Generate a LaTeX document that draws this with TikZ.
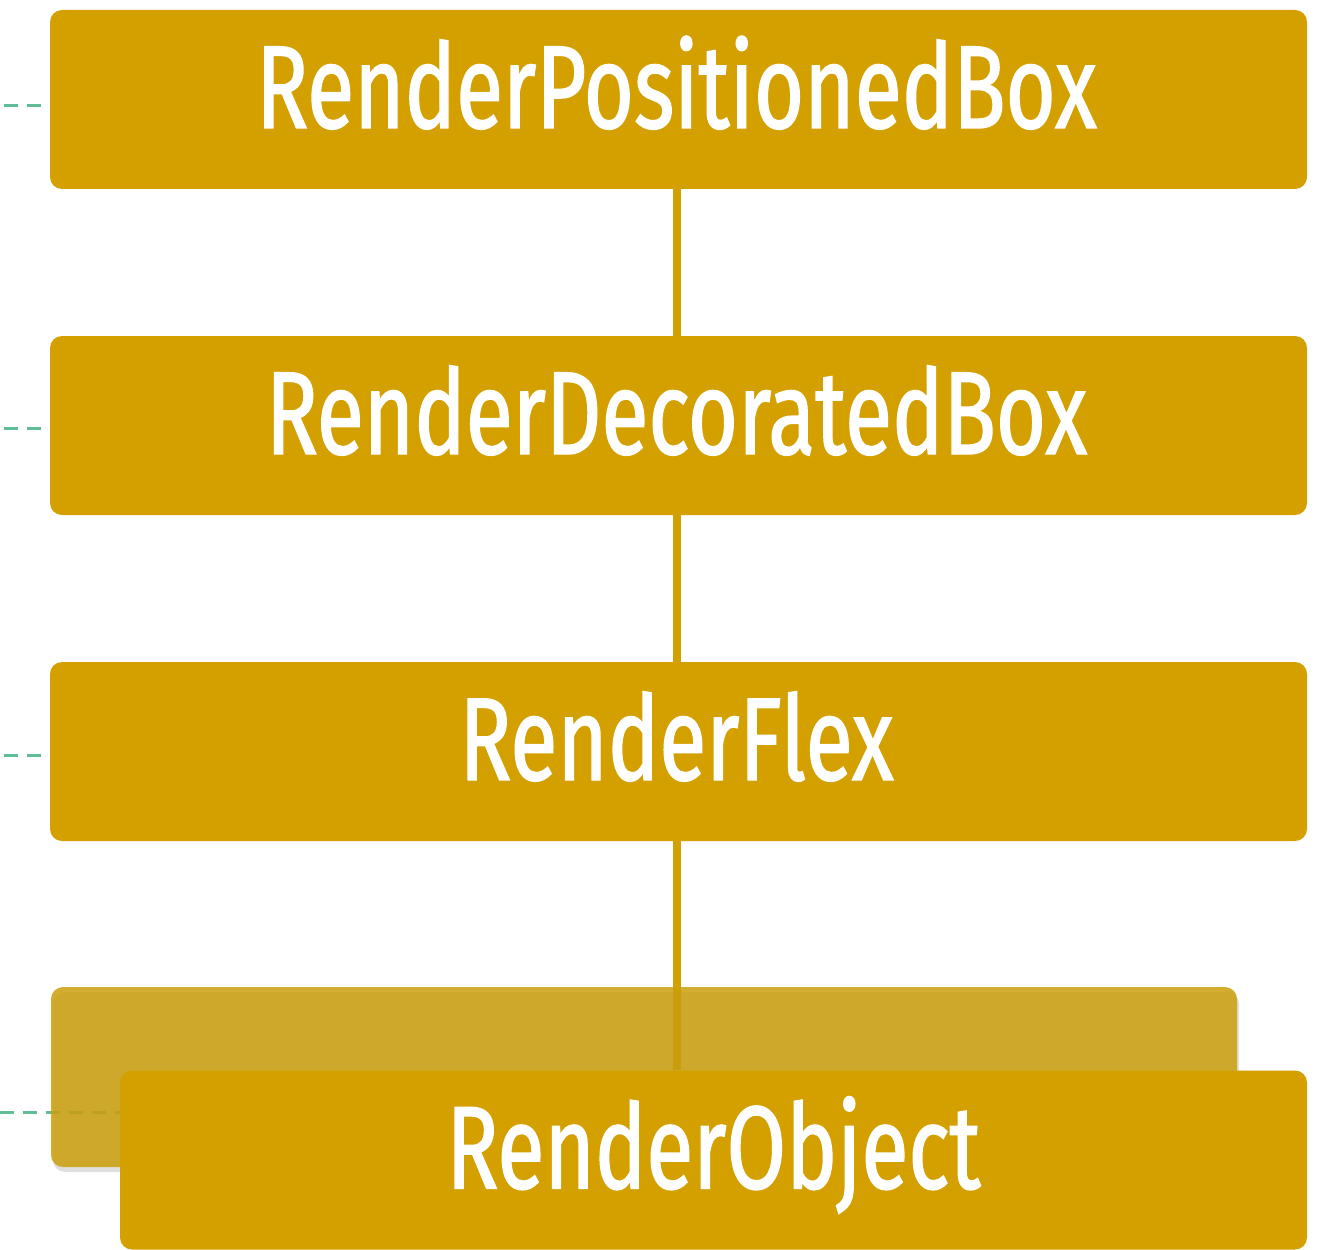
\documentclass[tikz,border=0pt]{standalone}
\usepackage{fontspec}
\setmainfont[FakeStretch=0.73,FakeBold=1.2]{Fira Sans}
\usetikzlibrary{shadows}
\definecolor{gold}{RGB}{212,160,0}
\definecolor{goldback}{RGB}{203,159,12}
\definecolor{dashgreen}{RGB}{95,190,150}
\pgfdeclarelayer{lines}
\pgfdeclarelayer{behind}
\pgfsetlayers{lines,behind,main}
\begin{document}
\begin{tikzpicture}[x=1pt,y=-1pt,
  classbox/.style={fill=gold, rounded corners=12pt, minimum width=1257pt,
    minimum height=179pt, inner sep=0pt, text=white,
    font=\fontsize{118}{120}\selectfont, text height=90pt, text depth=33pt},
  backbox/.style={fill=goldback, fill opacity=0.85, rounded corners=12pt,
    minimum width=1186pt, minimum height=180pt, inner sep=0pt,
    drop shadow={opacity=0.25, shadow xshift=2pt, shadow yshift=-5pt}},
  link/.style={draw=gold, line width=8pt},
  ref/.style={draw=dashgreen, line width=3pt, dash pattern=on 14pt off 9pt}]
\clip (0,0) rectangle (1321,1249);
% free ends of the dashed references
\coordinate (r1) at (4,106);
\coordinate (r2) at (4,428);
\coordinate (r3) at (4,755);
\coordinate (r4) at (0,1112);
% boxes
\node[classbox] (b1) at (678.5,99.5) {\hspace*{-4pt}RenderPositionedBox};
\node[classbox] (b2) at (678.5,425.5) {\hspace*{-4pt}RenderDecoratedBox};
\node[classbox] (b3) at (678.5,751.5) {\hspace*{-4pt}RenderFlex};
\node[classbox, minimum width=1187pt] (b4) at (713.5,1160) {RenderObject};
\begin{pgfonlayer}{behind}
\node[backbox] (b5) at (644,1077) {};
\end{pgfonlayer}
\begin{pgfonlayer}{lines}
\draw[ref] (r1) -- (r1 -| b1.west);
\draw[ref] (r2) -- (r2 -| b2.west);
\draw[ref] (r3) -- (r3 -| b3.west);
\draw[ref] (r4) -- (r4 -| b4.west);
\draw[link] ([xshift=-1.5pt]b1.south) -- ([xshift=-1.5pt]b2.north);
\draw[link] ([xshift=-1.5pt]b2.south) -- ([xshift=-1.5pt]b3.north);
\draw[link] ([xshift=-1.5pt]b3.south) -- ([xshift=-1.5pt]b3.south |- b4.north);
\end{pgfonlayer}
\end{tikzpicture}
\end{document}
